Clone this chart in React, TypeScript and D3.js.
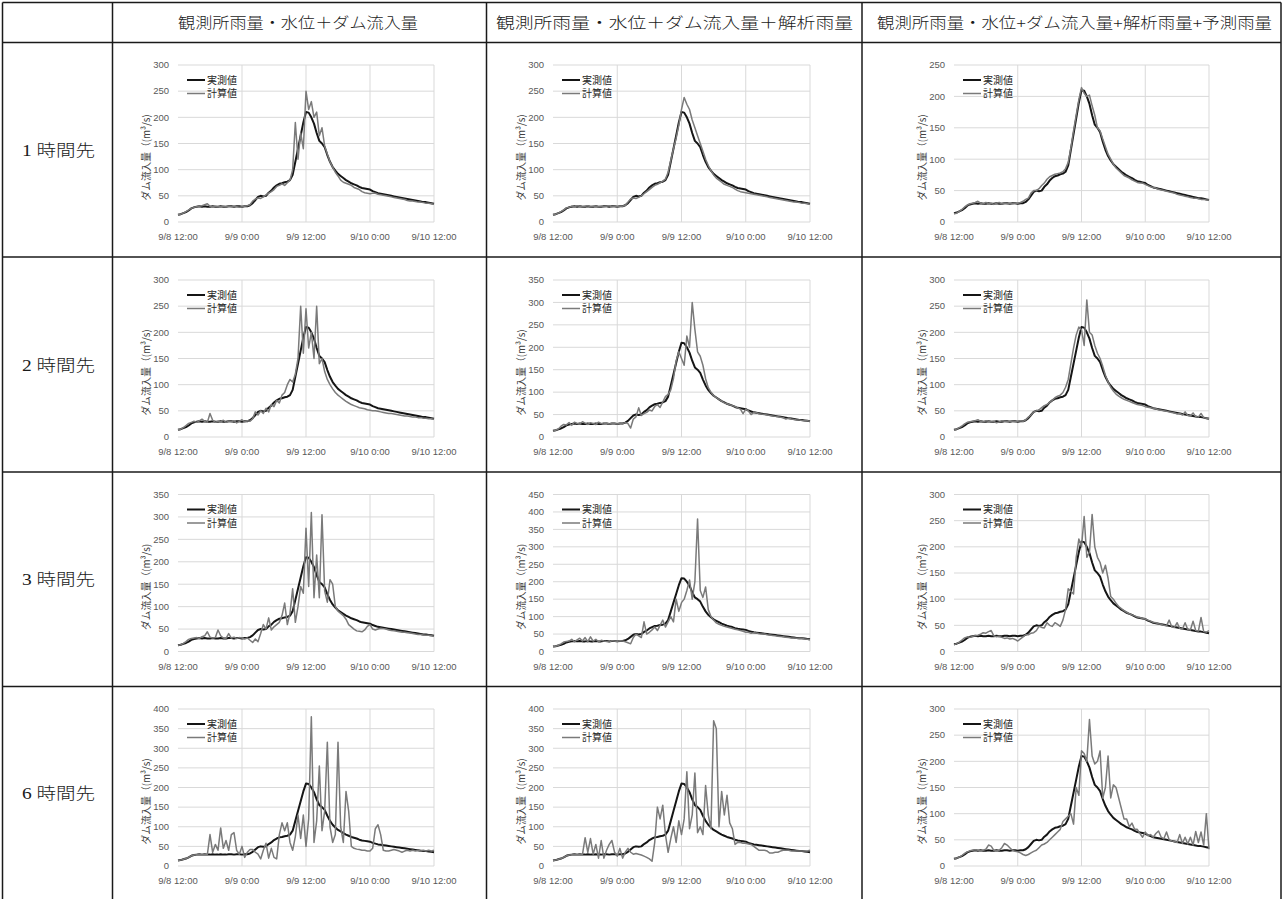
import React from "react";
import * as d3 from "d3";

// ---------- data ----------
const STEP_HOURS = 0.5; // samples every 30 min from 9/8 12:00
const X_TICK_HOURS = [0, 12, 24, 36, 48];
const X_TICK_LABELS = ["9/8 12:00", "9/9 0:00", "9/9 12:00", "9/10 0:00", "9/10 12:00"];
const COLUMN_TITLES = [
  "観測所雨量・水位＋ダム流入量",
  "観測所雨量・水位＋ダム流入量＋解析雨量",
  "観測所雨量・水位+ダム流入量+解析雨量+予測雨量",
];
const ROW_TITLES = ["1 時間先", "2 時間先", "3 時間先", "6 時間先"];
const LEGEND_LABELS = ["実測値", "計算値"];
const Y_TITLE = "ダム流入量（(m³/s)";
const Y_MAX = [
  [300, 300, 250],
  [300, 350, 300],
  [350, 450, 300],
  [400, 400, 300],
];

const OBSERVED = [
  14, 15, 17, 19, 22, 26, 28, 29, 30, 29, 30, 29, 29, 30, 29, 29, 30, 29, 29, 30, 30, 29, 30, 30, 29, 30, 30, 32,
  36, 42, 48, 50, 49, 50, 56, 60, 66, 70, 73, 74, 76, 77, 80, 90, 115, 140, 165, 190,
  210, 209, 200, 188, 170, 155, 150, 143, 128, 115, 105, 98, 92, 88, 84, 80, 77, 74, 72, 70,
  67, 65, 64, 63, 62, 59, 57, 55, 54, 53, 52, 51, 50, 49, 48, 47, 46, 45, 44, 43, 42, 41, 40, 39, 38, 38, 37, 36, 35,
];

const CALC_1H_A = [
  14, 15, 17, 20, 23, 26, 28, 29, 30, 31, 33, 35, 30, 29, 30, 29, 29, 30, 29, 30, 29, 30, 29, 28, 29, 30, 31, 33,
  40, 44, 46, 45, 48, 52, 55, 58, 62, 68, 70, 73, 70, 75, 80, 100, 190, 120, 170, 140,
  250, 215, 230, 200, 210, 165, 180, 145, 130, 115, 105, 95, 88, 80, 76, 74, 72, 70, 66, 64,
  62, 58, 56, 55, 54, 55, 55, 53, 52, 51, 50, 49, 48, 47, 46, 45, 44, 43, 41, 40, 40, 39, 38, 38, 37, 36, 36, 35, 34,
];
const CALC_1H_B = [
  14, 15, 17, 20, 23, 27, 28, 30, 29, 31, 30, 29, 30, 31, 29, 30, 30, 29, 30, 29, 30, 31, 29, 30, 29, 30, 30, 32,
  38, 44, 46, 45, 47, 50, 54, 58, 62, 66, 70, 72, 75, 78, 82, 95, 118, 140, 160, 185,
  215, 238, 225, 215, 195, 180, 165, 150, 135, 120, 108, 98, 90, 84, 80, 76, 72, 70, 68, 66,
  63, 60, 58, 57, 56, 55, 54, 53, 52, 51, 50, 49, 48, 47, 46, 45, 44, 43, 42, 41, 40, 39, 38, 38, 37, 36, 36, 35, 34,
];
const CALC_1H_C = [
  13, 14, 17, 20, 24, 27, 29, 30, 31, 33, 30, 29, 31, 29, 30, 28, 30, 31, 29, 30, 29, 30, 29, 30, 30, 31, 33, 36,
  38, 46, 50, 50, 53, 58, 62, 68, 72, 74, 76, 77, 78, 80, 85, 95, 118, 145, 170, 195,
  214, 205, 200, 202, 185, 170, 150, 145, 132, 120, 108, 100, 92, 86, 82, 78, 74, 72, 70, 67,
  65, 63, 62, 62, 60, 58, 56, 55, 54, 52, 51, 50, 49, 48, 47, 46, 44, 43, 42, 41, 40, 39, 38, 38, 37, 36, 36, 35, 35,
];
const CALC_2H_A = [
  14, 15, 18, 22, 26, 28, 30, 28, 31, 34, 30, 28, 45, 32, 28, 30, 29, 32, 28, 30, 29, 31, 27, 30, 33, 29, 31, 30,
  35, 48, 42, 50, 45, 55, 48, 62, 58, 70, 65, 80, 85, 100, 110, 105, 120, 150, 250, 160,
  245, 170, 200, 150, 250, 140, 150, 125, 110, 100, 92, 85, 80, 76, 72, 68, 65, 62, 60, 58,
  56, 55, 54, 52, 51, 50, 50, 49, 48, 47, 46, 45, 45, 44, 43, 42, 41, 40, 40, 39, 38, 38, 37, 37, 36, 36, 35, 35, 34,
];
const CALC_2H_B = [
  13, 15, 18, 24, 28, 27, 32, 26, 33, 30, 29, 34, 31, 28, 32, 30, 28, 33, 30, 29, 31, 29, 30, 30, 29, 31, 30, 32,
  30, 20, 40, 45, 65, 48, 52, 55, 60, 58, 68, 72, 66, 78, 90, 95, 105, 130, 170, 190,
  175, 160, 225, 200, 300, 240, 190, 180, 160, 130, 110, 100, 92, 88, 84, 80, 76, 74, 72, 70,
  68, 65, 62, 52, 62, 58, 50, 55, 54, 52, 51, 50, 49, 48, 47, 46, 45, 44, 43, 40, 42, 40, 39, 38, 38, 37, 36, 36, 35,
];
const CALC_2H_C = [
  13, 15, 18, 21, 25, 28, 29, 30, 31, 33, 30, 29, 31, 30, 29, 30, 27, 29, 31, 30, 29, 30, 30, 29, 30, 31, 30, 33,
  38, 42, 48, 50, 52, 56, 60, 62, 66, 70, 75, 78, 80, 85, 95, 110, 140, 170, 195, 210,
  205, 175, 262, 200, 195, 175, 160, 150, 135, 118, 105, 95, 88, 82, 78, 75, 72, 70, 68, 66,
  64, 62, 61, 60, 58, 57, 56, 55, 54, 52, 51, 50, 49, 48, 47, 46, 44, 45, 42, 48, 41, 40, 46, 39, 38, 45, 37, 36, 35,
];
const CALC_3H_A = [
  14, 15, 18, 22, 27, 29, 30, 31, 29, 33, 35, 44, 32, 30, 31, 48, 35, 30, 29, 40, 30, 32, 29, 31, 30, 28, 30, 25,
  20, 28, 22, 40, 60, 50, 75, 48, 55, 60, 65, 80, 108, 60, 85, 140, 65, 100, 145, 130,
  275, 145, 310, 120, 215, 120, 305, 135, 110, 160, 150, 100, 90, 85, 80, 72, 60, 55, 50, 46,
  45, 44, 48, 56, 60, 50, 48, 50, 52, 51, 50, 48, 47, 46, 45, 44, 43, 43, 42, 41, 40, 39, 38, 38, 37, 36, 36, 35, 34,
];
const CALC_3H_B = [
  14, 15, 18, 22, 27, 29, 30, 35, 28, 33, 38, 30, 40, 28, 42, 30, 35, 28, 32, 30, 29, 27, 31, 30, 29, 31, 30, 28,
  25, 22, 40, 50, 45, 40, 85, 50, 55, 62, 70, 60, 75, 90, 70, 85, 100, 85, 150, 115,
  140, 150, 175, 205, 150, 200, 380, 175, 155, 185, 120, 100, 90, 82, 78, 75, 72, 70, 68, 66,
  64, 62, 60, 58, 55, 55, 52, 54, 53, 51, 50, 50, 48, 47, 46, 45, 44, 43, 42, 41, 40, 39, 39, 38, 37, 37, 36, 35, 34,
];
const CALC_3H_C = [
  13, 15, 18, 22, 26, 28, 27, 29, 30, 31, 33, 36, 35, 38, 40, 30, 28, 29, 27, 25, 26, 24, 25, 23, 20, 24, 28, 32,
  32, 35, 36, 40, 48, 46, 45, 55, 50, 48, 55, 52, 48, 60, 80, 120, 115, 110, 180, 215,
  200, 258, 180, 190, 262, 200, 180, 170, 150, 165, 140, 105, 100, 92, 86, 82, 78, 75, 72, 70,
  68, 66, 65, 63, 62, 60, 58, 56, 55, 53, 52, 50, 49, 60, 47, 46, 55, 44, 43, 55, 42, 41, 58, 40, 39, 65, 38, 37, 40,
];
const CALC_6H_A = [
  14, 15, 17, 19, 22, 26, 28, 29, 30, 29, 30, 29, 80, 35, 55, 40, 97, 45, 65, 40, 80, 85, 40, 30, 50, 22, 35, 42,
  42, 35, 30, 18, 40, 58, 20, 45, 22, 18, 80, 110, 90, 110, 60, 40, 75, 130, 70, 130,
  50, 120, 380, 60, 115, 255, 90, 140, 315, 100, 60, 80, 315, 100, 60, 190, 140, 50, 45, 43,
  42, 40, 40, 38, 38, 45, 95, 105, 80, 40, 38, 38, 40, 42, 40, 38, 35, 38, 40, 38, 40, 38, 40, 38, 40, 38, 40, 38, 40,
];
const CALC_6H_B = [
  14, 15, 17, 19, 22, 26, 28, 29, 30, 29, 30, 29, 72, 35, 70, 30, 55, 20, 65, 20, 40, 55, 65, 35, 25, 45, 20, 35,
  45, 35, 30, 32, 30, 28, 25, 22, 18, 12, 60, 150, 120, 155, 80, 35, 70, 100, 60, 115,
  80, 120, 240, 95, 130, 237, 85, 100, 80, 205, 130, 95, 370, 350, 100, 190, 130, 180, 110, 95,
  55, 60, 60, 58, 58, 56, 55, 50, 45, 40, 40, 40, 38, 33, 33, 35, 35, 38, 40, 40, 40, 38, 38, 38, 38, 38, 38, 38, 40,
];
const CALC_6H_C = [
  13, 15, 17, 20, 24, 27, 29, 30, 31, 30, 29, 30, 32, 40, 38, 30, 29, 30, 35, 43, 40, 35, 30, 28, 27, 25, 22, 20,
  22, 25, 28, 30, 35, 40, 42, 45, 50, 55, 60, 65, 70, 85, 90, 95, 100, 80, 150, 135,
  220, 215, 200, 280, 210, 195, 200, 220, 130, 150, 210, 130, 155, 150, 130, 110, 90, 90, 75, 82,
  70, 70, 62, 55, 65, 58, 60, 55, 62, 67, 55, 52, 65, 50, 48, 47, 45, 60, 43, 55, 42, 55, 40, 66, 45, 65, 40, 100, 32,
];

const CALCULATED = [
  [CALC_1H_A, CALC_1H_B, CALC_1H_C],
  [CALC_2H_A, CALC_2H_B, CALC_2H_C],
  [CALC_3H_A, CALC_3H_B, CALC_3H_C],
  [CALC_6H_A, CALC_6H_B, CALC_6H_C],
];

// ---------- layout ----------
const W = 1287;
const H = 899;
const TABLE_X = [2.5, 112.5, 486.5, 862, 1281];
const TABLE_Y = [2.5, 42.5, 257, 472, 686.5, 912];
const PLOT_X = [
  [178, 434],
  [553, 810],
  [954, 1209],
];
const PLOT_TOP = [65, 280, 494.5, 709];
const PLOT_H = 157;
const HEADER_SPAN = [
  [178, 418],
  [496, 853],
  [877, 1272],
];

const CJK = "'Noto Sans CJK JP', 'Noto Sans', sans-serif";
const SERIF = "'Liberation Serif', 'Noto Sans CJK JP', serif";
const TICK_FONT = "'Liberation Sans', 'Noto Sans', sans-serif";

function Panel({ left, right, top, yMax, calc }: { left: number; right: number; top: number; yMax: number; calc: number[] }) {
  const bottom = top + PLOT_H;
  const x = d3.scaleLinear().domain([0, 48]).range([left, right]);
  const y = d3.scaleLinear().domain([0, yMax]).range([bottom, top]);
  const line = d3
    .line<number>()
    .x((_, i) => x(i * STEP_HOURS))
    .y((d) => y(d));
  const yTicks = d3.range(0, yMax + 1, 50);
  return (
    <g>
      {yTicks.map((v) => (
        <line key={"h" + v} x1={left} x2={right} y1={y(v)} y2={y(v)} stroke="#d9d9d9" strokeWidth={1} />
      ))}
      {X_TICK_HOURS.slice(1).map((h) => (
        <line key={"v" + h} x1={x(h)} x2={x(h)} y1={top} y2={bottom} stroke="#d9d9d9" strokeWidth={1} />
      ))}
      {yTicks.map((v) => (
        <text key={"yl" + v} x={left - 9} y={y(v)} dy="0.35em" textAnchor="end" fontSize={9.5} fill="#595959" fontFamily={TICK_FONT}>
          {v}
        </text>
      ))}
      {X_TICK_HOURS.map((h, i) => (
        <text key={"xl" + h} x={x(h)} y={bottom + 18} textAnchor="middle" fontSize={9.5} fill="#595959" fontFamily={TICK_FONT}>
          {X_TICK_LABELS[i]}
        </text>
      ))}
      <text
        transform={`translate(${left - 32},${top + PLOT_H / 2 + 14}) rotate(-90)`}
        textAnchor="middle"
        dy="0.35em"
        fontSize={10}
        fill="#404040"
        fontFamily={CJK}
        textLength={86}
        lengthAdjust="spacingAndGlyphs"
      >
        {Y_TITLE}
      </text>
      <path d={line(OBSERVED) || ""} fill="none" stroke="#151515" strokeWidth={2} strokeLinejoin="round" />
      <path d={line(calc) || ""} fill="none" stroke="#7a7a7a" strokeWidth={1.5} strokeLinejoin="round" />
      {/* legend */}
      <line x1={left + 9} x2={left + 27} y1={top + 15} y2={top + 15} stroke="#151515" strokeWidth={2} />
      <text x={left + 29} y={top + 15} dy="0.35em" fontSize={10} fill="#262626" fontFamily={CJK}>
        {LEGEND_LABELS[0]}
      </text>
      <line x1={left + 9} x2={left + 27} y1={top + 28.5} y2={top + 28.5} stroke="#7a7a7a" strokeWidth={1.5} />
      <text x={left + 29} y={top + 28.5} dy="0.35em" fontSize={10} fill="#262626" fontFamily={CJK}>
        {LEGEND_LABELS[1]}
      </text>
    </g>
  );
}

export default function App() {
  return (
    <svg
      width={W}
      height={H}
      viewBox={`0 0 ${W} ${H}`}
      style={{ position: "absolute", left: 0, top: 0, background: "#fff" }}
    >
      <rect x={0} y={0} width={W} height={H} fill="#fff" />
      {/* header texts */}
      {COLUMN_TITLES.map((t, i) => (
        <text
          key={"ct" + i}
          x={HEADER_SPAN[i][0]}
          y={28}
          fontSize={15}
          fontWeight={300}
          fill="#1a1a1a"
          fontFamily={SERIF}
          textLength={HEADER_SPAN[i][1] - HEADER_SPAN[i][0]}
          lengthAdjust="spacingAndGlyphs"
        >
          {t}
        </text>
      ))}
      {/* row titles */}
      {ROW_TITLES.map((t, i) => (
        <text
          key={"rt" + i}
          x={22}
          y={(TABLE_Y[i + 1] + Math.min(TABLE_Y[i + 2], H)) / 2 + 6}
          fontSize={16}
          fontWeight={300}
          fill="#1a1a1a"
          fontFamily={SERIF}
          textLength={73}
          lengthAdjust="spacingAndGlyphs"
        >
          {t}
        </text>
      ))}
      {/* panels */}
      {CALCULATED.map((row, r) =>
        row.map((calc, c) => (
          <Panel
            key={`p${r}${c}`}
            left={PLOT_X[c][0]}
            right={PLOT_X[c][1]}
            top={PLOT_TOP[r]}
            yMax={Y_MAX[r][c]}
            calc={calc}
          />
        ))
      )}
      {/* table grid */}
      {TABLE_X.map((xv, i) => (
        <line key={"tx" + i} x1={xv} x2={xv} y1={TABLE_Y[0]} y2={TABLE_Y[TABLE_Y.length - 1]} stroke="#1a1a1a" strokeWidth={1.5} />
      ))}
      {TABLE_Y.map((yv, i) => (
        <line key={"ty" + i} x1={TABLE_X[0]} x2={TABLE_X[TABLE_X.length - 1]} y1={yv} y2={yv} stroke="#1a1a1a" strokeWidth={1.5} />
      ))}
    </svg>
  );
}
